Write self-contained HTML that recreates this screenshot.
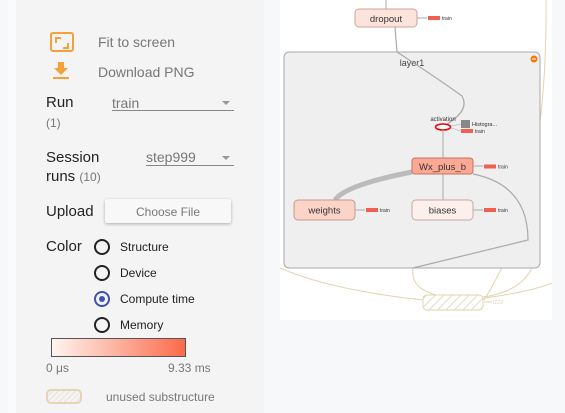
<!DOCTYPE html>
<html><head><meta charset="utf-8"><style>
body{margin:0;width:565px;height:413px;background:#f7f8fa;position:relative;overflow:hidden;font-family:"Liberation Sans",sans-serif;}
.a{position:absolute;white-space:nowrap;}
.panel{position:absolute;left:16px;top:0;width:248px;height:413px;background:#f4f4f4;}
.lbl{color:#222;font-size:15px;}
.gray{color:#777;}
.radio{position:absolute;width:12px;height:12px;border:2px solid #222;border-radius:50%;}
.rt{font-size:12px;color:#222;}
</style></head><body>
<div class="a" style="left:8px;top:0;width:8px;height:413px;background:#fbfbfc"></div>
<div class="panel"></div>
<!-- fit icon -->
<div class="a" style="left:50px;top:32px;width:20px;height:16px;border:2px solid #f5a03a;border-radius:3px;box-sizing:border-box;width:24px;height:20px"></div>
<div class="a" style="left:55px;top:37px;width:4px;height:4px;border-left:2px solid #f5a03a;border-top:2px solid #f5a03a"></div>
<div class="a" style="left:63px;top:43px;width:4px;height:4px;border-right:2px solid #f5a03a;border-bottom:2px solid #f5a03a"></div>
<div class="a gray" style="left:98px;top:34px;font-size:14px">Fit to screen</div>
<!-- download icon -->
<svg class="a" style="left:52px;top:60px" width="20" height="20"><path d="M6 2h6v6h4l-7 7-7-7h4z" fill="#f5a03a"/><rect x="1" y="17" width="16" height="2" fill="#f5a03a"/></svg>
<div class="a gray" style="left:98px;top:64px;font-size:14px">Download PNG</div>
<div class="a lbl" style="left:46px;top:94px">Run</div>
<div class="a gray" style="left:46px;top:116px;font-size:12px">(1)</div>
<div class="a gray" style="left:112px;top:95px;font-size:14px">train</div>
<div class="a" style="left:112px;top:110px;width:122px;height:1px;background:#888"></div>
<div class="a" style="left:222px;top:101px;border:4px solid transparent;border-top:4px solid #999;"></div>
<div class="a lbl" style="left:46px;top:149px">Session</div>
<div class="a lbl" style="left:46px;top:168px">runs <span class="gray" style="font-size:12px">(10)</span></div>
<div class="a gray" style="left:146px;top:149px;font-size:14px">step999</div>
<div class="a" style="left:146px;top:165px;width:88px;height:1px;background:#888"></div>
<div class="a" style="left:222px;top:156px;border:4px solid transparent;border-top:4px solid #999;"></div>
<div class="a lbl" style="left:46px;top:203px">Upload</div>
<div class="a" style="left:105px;top:199px;width:126px;height:24px;background:#f8f8f8;box-shadow:0 1px 3px rgba(0,0,0,.3);border-radius:2px;text-align:center;line-height:26px;font-size:12px;color:#777">Choose File</div>
<div class="a lbl" style="left:46px;top:238px">Color</div>
<div class="radio" style="left:94px;top:239px"></div><div class="a rt" style="left:120px;top:240px">Structure</div>
<div class="radio" style="left:94px;top:265px"></div><div class="a rt" style="left:120px;top:266px">Device</div>
<div class="radio" style="left:94px;top:291px;border-color:#3f51b5"></div><div class="a" style="left:99px;top:296px;width:6px;height:6px;border-radius:50%;background:#3f51b5"></div><div class="a rt" style="left:120px;top:292px">Compute time</div>
<div class="radio" style="left:94px;top:317px"></div><div class="a rt" style="left:120px;top:318px">Memory</div>
<div class="a" style="left:51px;top:338px;width:135px;height:19px;box-sizing:border-box;border:1px solid #555;background:linear-gradient(to right,#fff5f0,#fb6a4a)"></div>
<div class="a gray" style="left:46px;top:361px;font-size:12px">0 μs</div>
<div class="a gray" style="left:168px;top:361px;font-size:12px">9.33 ms</div>
<div class="a" style="left:46px;top:389px;width:36px;height:15px;box-sizing:border-box;border:2px solid #e3d5b5;border-radius:5px;background:repeating-linear-gradient(135deg,#f4f4f4 0 3px,#ebe3d3 3px 4px)"></div>
<div class="a gray" style="left:106px;top:390px;font-size:12px">unused substructure</div>

<svg class="a" style="left:280px;top:0" width="272" height="320" viewBox="280 0 272 320">
<defs><pattern id="h" width="6" height="6" patternUnits="userSpaceOnUse" patternTransform="rotate(45)"><rect width="6" height="6" fill="#fff"/><rect width="1" height="6" fill="#e6dbc3"/></pattern></defs>
<rect x="280" y="0" width="272" height="320" fill="#fff"/>
<path d="M280 268 Q330 290 423 300" stroke="#e3d3b0" fill="none"/>
<path d="M546 0 Q548 200 484 300" stroke="#e3d3b0" fill="none"/>
<path d="M413 268 Q410 288 436 295" stroke="#e3d3b0" fill="none"/>
<path d="M532 268 Q520 292 483 297" stroke="#e3d3b0" fill="none"/>
<path d="M484 298 Q530 292 552 283" stroke="#e3d3b0" fill="none"/>
<path d="M386 0 V9" stroke="#aaa"/>
<rect x="284" y="52" width="256" height="216" rx="5" fill="#efefef" stroke="#aaa"/>
<text x="412" y="66" font-size="9" text-anchor="middle" fill="#444">layer1</text>
<circle cx="534" cy="59" r="3.5" fill="#f57c00"/><rect x="532" y="58.5" width="4" height="1" fill="#fff"/>
<path d="M395 27 L397 52 Q440 80 462 96 Q470 110 447 124" stroke="#aaa" fill="none" stroke-width="1.2"/>
<rect x="355" y="9" width="62" height="18" rx="4" fill="#fce3dc" stroke="#c9a59b"/>
<text x="386" y="22" font-size="9.5" text-anchor="middle" fill="#333">dropout</text>
<path d="M417 18 H427" stroke="#aaa"/><rect x="428" y="16" width="12" height="4" fill="#f06050"/><text x="442" y="20" font-size="5" fill="#333">train</text>
<text x="443" y="121" font-size="6" text-anchor="middle" fill="#333">activation</text>
<ellipse cx="443" cy="127" rx="7.5" ry="3" fill="#fff" stroke="#e00" stroke-width="1.5"/>
<path d="M451 126 L461 124 M451 128 L461 131" stroke="#aaa" stroke-width=".6"/>
<rect x="461" y="120" width="9" height="8" fill="#888"/><text x="472" y="126" font-size="5.5" fill="#333">Histogra...</text>
<rect x="461" y="129" width="12" height="4" fill="#f06050"/><text x="475" y="133" font-size="5" fill="#333">train</text>
<path d="M443 130 V158 M443 174 V200" stroke="#aaa"/>
<path d="M335 200 Q345 185 412 172" stroke="#bbb" stroke-width="5" fill="none"/>
<path d="M473 174 Q528 185 528 240 L413 268" stroke="#aaa" fill="none" stroke-width="1.2"/>
<rect x="412" y="158" width="61" height="16" rx="3" fill="#fba995" stroke="#c07563"/>
<text x="442.5" y="170" font-size="9.5" text-anchor="middle" fill="#333">Wx_plus_b</text>
<path d="M473 166 H483" stroke="#aaa"/><rect x="484" y="164.5" width="12" height="4" fill="#f06050"/><text x="498" y="168.5" font-size="5" fill="#333">train</text>
<rect x="294" y="200" width="61" height="20" rx="4" fill="#fcd3c7" stroke="#c09a90"/>
<text x="324.5" y="213.5" font-size="9.5" text-anchor="middle" fill="#333">weights</text>
<path d="M355 210 H365" stroke="#aaa"/><rect x="366" y="208" width="12" height="4" fill="#f06050"/><text x="380" y="212" font-size="5" fill="#333">train</text>
<rect x="412" y="200" width="61" height="20" rx="4" fill="#fdf0ec" stroke="#c0aaa4"/>
<text x="442.5" y="213.5" font-size="9.5" text-anchor="middle" fill="#333">biases</text>
<path d="M473 210 H483" stroke="#aaa"/><rect x="484" y="208" width="12" height="4" fill="#f06050"/><text x="498" y="212" font-size="5" fill="#333">train</text>
<rect x="423" y="295" width="60" height="15" rx="4" fill="url(#h)" stroke="#e3d3b0"/>
<path d="M484 302 H492" stroke="#e3d3b0"/><text x="493" y="304" font-size="5" fill="#e3d3b0">IZZZ</text>
</svg>
</body></html>
